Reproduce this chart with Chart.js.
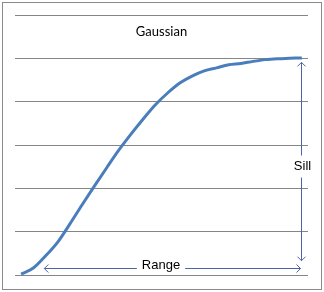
<!DOCTYPE html>
<html>
<head>
<meta charset="utf-8">
<script src="https://cdn.jsdelivr.net/npm/chart.js@4"></script>
<style>
html,body{margin:0;padding:0;background:#fff;}
canvas{display:block;}
</style>
</head>
<body>
<canvas id="c" width="324" height="292"></canvas>
<script>
// ---- data ----
const categories = ['1','2','3','4','5','6','7','8','9','10','11','12','13','14','15','16','17','18','19','20','21','22','23','24'];
const semivariance = [0.02,0.16,0.44,0.76,1.18,1.62,2.05,2.47,2.88,3.25,3.60,3.93,4.20,4.43,4.59,4.71,4.78,4.85,4.88,4.93,4.97,4.99,5.00,5.01];
const yTicks = [0,1,2,3,4,5,6];
const chartTitle = 'Gaussian';
const sillLabel = 'Sill';
const rangeLabel = 'Range';
const sillValue = 5;          // top of the Sill arrow
const sillBase = 0.33;        // bottom of the Sill arrow
const rangeLevel = 0.16;      // height of the Range arrow
const rangeStart = 1.9;       // category position where Range arrow begins

const arrowColor = '#4a64a6';

function arrowHead(ctx, x, y, dir, len) {
  ctx.beginPath();
  if (dir === 'up') {
    ctx.moveTo(x - len, y + len); ctx.lineTo(x, y); ctx.lineTo(x + len, y + len);
  } else if (dir === 'down') {
    ctx.moveTo(x - len, y - len); ctx.lineTo(x, y); ctx.lineTo(x + len, y - len);
  } else if (dir === 'left') {
    ctx.moveTo(x + len, y - len); ctx.lineTo(x, y); ctx.lineTo(x + len, y + len);
  } else {
    ctx.moveTo(x - len, y - len); ctx.lineTo(x, y); ctx.lineTo(x - len, y + len);
  }
  ctx.stroke();
}

const overlay = {
  id: 'overlay',
  afterDraw(chart) {
    const ctx = chart.ctx;
    const xs = chart.scales.x, ys = chart.scales.y;
    ctx.save();
    // outer border
    ctx.strokeStyle = '#8a8a8a';
    ctx.lineWidth = 1;
    ctx.strokeRect(2.5, 2.5, 319, 287);
    // title
    ctx.fillStyle = '#000';
    ctx.font = '13px Lato, "Open Sans", sans-serif';
    ctx.textAlign = 'center';
    ctx.textBaseline = 'middle';
    ctx.fillText(chartTitle, (chart.chartArea.left + chart.chartArea.right) / 2, 32);

    ctx.strokeStyle = arrowColor;
    ctx.lineWidth = 1;
    ctx.font = '13px "Liberation Sans", Arial, sans-serif';
    // Sill arrow
    const sx = Math.round(xs.getPixelForValue(categories.length - 1) - 1) + 0.5;
    const sTop = ys.getPixelForValue(sillValue) + 4;
    const sBot = ys.getPixelForValue(sillBase);
    const sMid = (sTop + sBot) / 2 + 5;
    ctx.beginPath();
    ctx.moveTo(sx, sTop); ctx.lineTo(sx, sMid - 11);
    ctx.moveTo(sx, sMid + 11); ctx.lineTo(sx, sBot);
    ctx.stroke();
    arrowHead(ctx, sx, sTop, 'up', 4);
    arrowHead(ctx, sx, sBot, 'down', 4);
    ctx.fillStyle = '#000';
    ctx.fillText(sillLabel, sx + 1, sMid);

    // Range arrow
    const ry = Math.round(ys.getPixelForValue(rangeLevel)) + 0.5;
    const rL = xs.getPixelForValue(rangeStart);
    const rR = sx - 1;
    const rMid = 161;
    const tw = ctx.measureText(rangeLabel).width;
    ctx.beginPath();
    ctx.moveTo(rL, ry); ctx.lineTo(rMid - tw / 2 - 5, ry);
    ctx.moveTo(rMid + tw / 2 + 5, ry); ctx.lineTo(rR, ry);
    ctx.stroke();
    arrowHead(ctx, rL, ry, 'left', 4);
    arrowHead(ctx, rR, ry, 'right', 4);
    ctx.fillText(rangeLabel, rMid, ry - 3);
    ctx.restore();
  }
};

new Chart(document.getElementById('c'), {
  type: 'line',
  data: {
    labels: categories,
    datasets: [{
      data: semivariance,
      borderColor: '#4a7ebb',
      borderWidth: 3,
      pointRadius: 0,
      cubicInterpolationMode: 'monotone',
      fill: false,
      clip: false
    }]
  },
  options: {
    responsive: false,
    animation: false,
    devicePixelRatio: 1,
    layout: { padding: { left: 15, right: 16, top: 15, bottom: 17 } },
    plugins: { legend: { display: false }, title: { display: false }, tooltip: { enabled: false } },
    scales: {
      x: { display: false, offset: true },
      y: {
        min: 0, max: 6,
        afterBuildTicks(scale) { scale.ticks = yTicks.map(v => ({ value: v })); },
        ticks: { display: false },
        border: { display: false },
        grid: { color: '#868686', lineWidth: 1, drawTicks: false, tickLength: 0 }
      }
    }
  },
  plugins: [overlay]
});
</script>
</body>
</html>
